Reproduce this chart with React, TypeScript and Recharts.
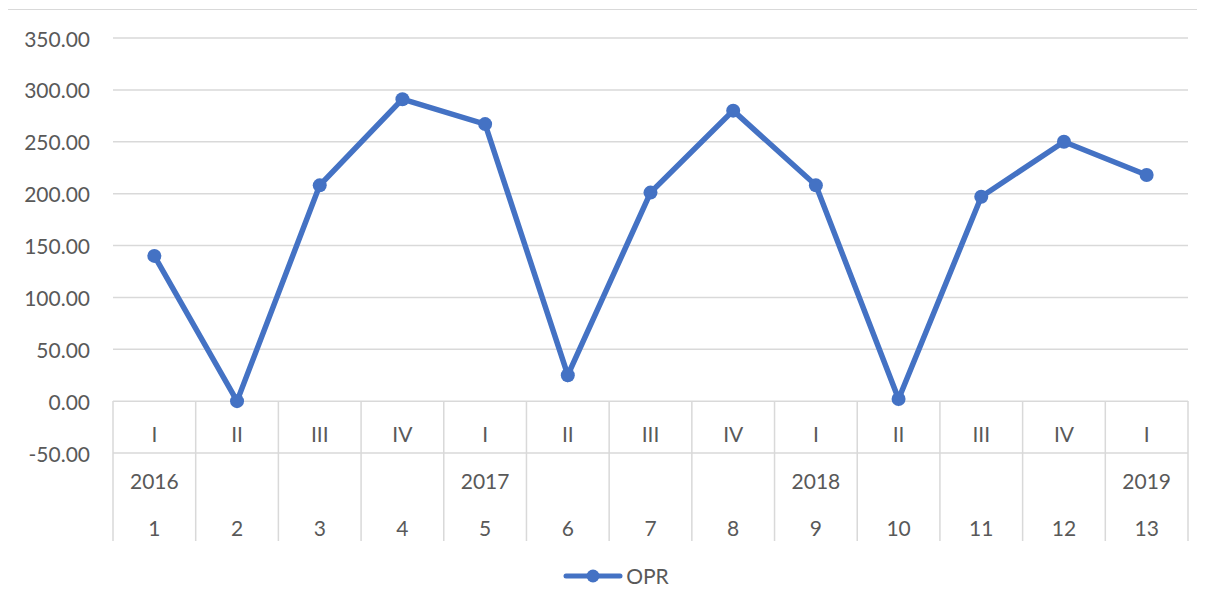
import React from 'react';
import { LineChart, Line, XAxis, YAxis, CartesianGrid, Legend } from 'recharts';

const indices = ['1', '2', '3', '4', '5', '6', '7', '8', '9', '10', '11', '12', '13'];
const quarters = ['I', 'II', 'III', 'IV', 'I', 'II', 'III', 'IV', 'I', 'II', 'III', 'IV', 'I'];
const years = ['2016', '', '', '', '2017', '', '', '', '2018', '', '', '', '2019'];
const oprValues = [140, 0, 208, 291, 267, 25, 201, 280, 208, 2, 197, 250, 218];
const yTicks = [-50, 0, 50, 100, 150, 200, 250, 300, 350];

const data = indices.map((idx, i) => ({ idx, q: quarters[i], year: years[i], OPR: oprValues[i] }));

const FONT = 'Lato, "Open Sans", sans-serif';
const TEXT = '#595959';
const GRID = '#d9d9d9';
const BLUE = '#4472C4';
const FS = 21;

const XTick = (props: any) => {
  const { x, y, index, width } = props;
  const w = typeof width === 'number' && width > 0 ? width : 1075;
  const half = w / indices.length / 2;
  const i = index;
  const d = data[i];
  return (
    <g>
      <line x1={x - half} x2={x - half} y1={y - 52} y2={y + 88} stroke={GRID} strokeWidth={1.5} />
      {i === indices.length - 1 && (
        <line x1={x + half} x2={x + half} y1={y - 52} y2={y + 88} stroke={GRID} strokeWidth={1.5} />
      )}
      <text x={x} y={y - 20} textAnchor="middle" dominantBaseline="central" fill={TEXT} fontSize={FS} fontFamily={FONT}>
        {d.q}
      </text>
      <text x={x} y={y + 27} textAnchor="middle" dominantBaseline="central" fill={TEXT} fontSize={FS} fontFamily={FONT}>
        {d.year}
      </text>
      <text x={x} y={y + 74} textAnchor="middle" dominantBaseline="central" fill={TEXT} fontSize={FS} fontFamily={FONT}>
        {d.idx}
      </text>
    </g>
  );
};

const YTick = (props: any) => {
  const { x, y, payload } = props;
  return (
    <text x={x - 23} y={y} textAnchor="end" dominantBaseline="central" fill={TEXT} fontSize={FS} fontFamily={FONT}>
      {Number(payload.value).toFixed(2)}
    </text>
  );
};

const LegendContent = () => (
  <div style={{ display: 'flex', justifyContent: 'center', alignItems: 'center', fontFamily: FONT, fontSize: FS, color: TEXT }}>
    <svg width={60} height={20} style={{ marginRight: 3 }}>
      <line x1={3} x2={57} y1={10} y2={10} stroke={BLUE} strokeWidth={5} strokeLinecap="round" />
      <circle cx={30} cy={10} r={6.5} fill={BLUE} />
    </svg>
    <span>OPR</span>
  </div>
);

export default function App() {
  return (
    <div style={{ marginLeft: -1, marginTop: 1, width: 1210, height: 610, border: `1px solid ${GRID}`, background: '#fff', boxSizing: 'border-box' }}>
      <LineChart width={1196} height={598} data={data} margin={{ top: 28, right: 16, left: 0, bottom: 55 }}>
        <CartesianGrid vertical={false} stroke={GRID} strokeWidth={1.5} />
        <XAxis
          dataKey="idx"
          type="category"
          scale="band"
          height={100}
          axisLine={false}
          tickLine={false}
          tickSize={0}
          tickMargin={0}
          interval={0}
          tick={<XTick />}
        />
        <YAxis
          type="number"
          domain={[-50, 350]}
          ticks={yTicks}
          width={105}
          axisLine={false}
          tickLine={false}
          tickSize={0}
          tickMargin={0}
          interval={0}
          tick={<YTick />}
        />
        <Legend
          layout="horizontal"
          verticalAlign="middle"
          align="center"
          content={<LegendContent />}
          wrapperStyle={{ top: 553, left: 10, width: 1196 }}
        />
        <Line
          type="linear"
          dataKey="OPR"
          stroke={BLUE}
          strokeWidth={5.5}
          dot={{ r: 7, fill: BLUE, stroke: BLUE, strokeWidth: 0 }}
          activeDot={false}
          isAnimationActive={false}
        />
      </LineChart>
    </div>
  );
}
